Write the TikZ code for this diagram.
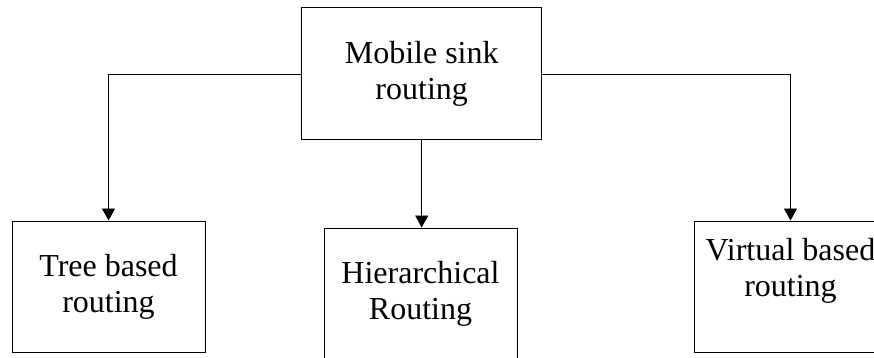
\documentclass[tikz,border=0pt]{standalone}
\usepackage{fontspec}
\setmainfont{Liberation Serif}
\usetikzlibrary{arrows.meta}
\begin{document}
\begin{tikzpicture}[x=1pt,y=-1pt,
  box/.style={draw=black,line width=1pt,rectangle,inner sep=0pt,align=center,
    font=\fontsize{32}{36}\selectfont},
  arr/.style={line width=0.9pt,-{Triangle[width=13pt,length=12pt]}}]
\clip (0,0) rectangle (874,358);
\fill[white] (0,0) rectangle (874,358);
\node[box,minimum width=240pt,minimum height=132pt] (top) at (421.7,74) {Mobile sink\\routing};
\node[box,minimum width=193pt,minimum height=131pt] (tree) at (108.5,286.5) {Tree based\\routing};
\node[box,minimum width=193pt,minimum height=131pt] (hier) at (420.5,293.5) {Hierarchical\\Routing};
\node[box,minimum width=193pt,minimum height=131pt] (virt) at (790.5,286.5) {};
\node[align=center,inner sep=0pt,font=\fontsize{32}{36}\selectfont] (virttext) at (790.5,271) {Virtual based\\routing};
\draw[arr] (top.west) -| (tree.north);
\draw[arr] (top.east) -| (virt.north);
\draw[arr] (top.south) -- (top.south |- hier.north);
\end{tikzpicture}
\end{document}
